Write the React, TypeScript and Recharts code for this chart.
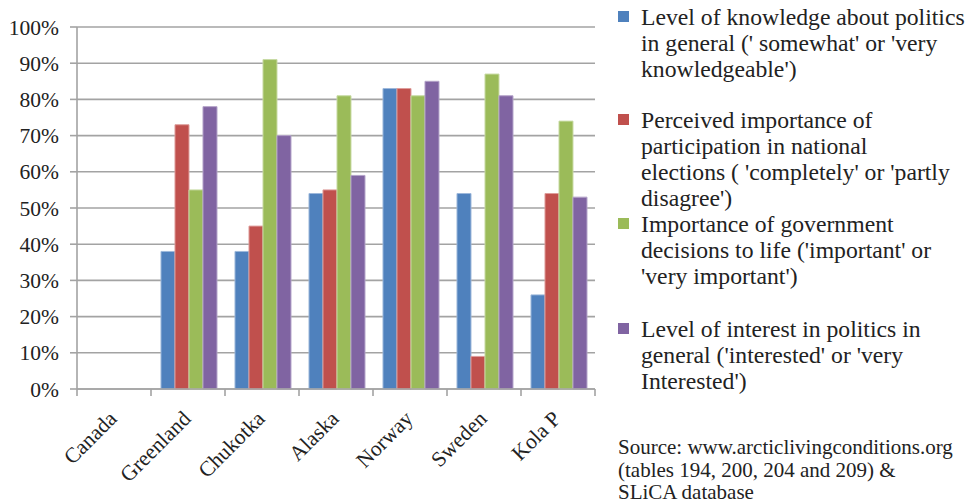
import React from 'react';
import { BarChart, Bar, XAxis, YAxis, CartesianGrid } from 'recharts';

const categories = ['Canada', 'Greenland', 'Chukotka', 'Alaska', 'Norway', 'Sweden', 'Kola P'];
const knowledge = [null, 38, 38, 54, 83, 54, 26];
const participation = [null, 73, 45, 55, 83, 9, 54];
const government = [null, 55, 91, 81, 81, 87, 74];
const interest = [null, 78, 70, 59, 85, 81, 53];
const yTicks = [0, 10, 20, 30, 40, 50, 60, 70, 80, 90, 100];

const seriesKeys = ['knowledge', 'participation', 'government', 'interest'];
const seriesColors = ['#4F81BD', '#C0504D', '#9BBB59', '#8064A2'];
const seriesEdges = ['#9DB8DB', '#DE9D9B', '#C8DBA4', '#B4A3C9'];
const seriesLabelLines = [
  ['Level of knowledge about politics', "in general (' somewhat' or 'very", "knowledgeable')"],
  ['Perceived importance of', 'participation in national', "elections ( 'completely' or 'partly", "disagree')"],
  ['Importance of government', "decisions to life ('important' or", "'very important')"],
  ['Level of interest in politics in', "general ('interested' or 'very", "Interested')"],
];
const sourceLines = [
  'Source: www.arcticlivingconditions.org',
  '(tables 194, 200, 204 and 209) &',
  'SLiCA database',
];

const data = categories.map((c, i) => ({
  name: c,
  knowledge: knowledge[i],
  participation: participation[i],
  government: government[i],
  interest: interest[i],
}));

const W = 971;
const H = 504;
const PLOT_LEFT = 77;
const PLOT_RIGHT = 595;
const PLOT_TOP = 27;
const PLOT_BOTTOM = 389;
const BAND = (PLOT_RIGHT - PLOT_LEFT) / categories.length;
const FONT = '"Liberation Serif", "Times New Roman", serif';
const GRID = '#A3A3A3';
const ITEM_HEIGHTS = [103, 104, 105, 100];

const XTick = (props: any) => {
  const { x, y, payload, index } = props;
  const half = BAND / 2;
  return (
    <g>
      <line x1={x - half} y1={y} x2={x - half} y2={y + 7} stroke={GRID} strokeWidth={1.6} />
      {index === categories.length - 1 && (
        <line x1={x + half} y1={y} x2={x + half} y2={y + 7} stroke={GRID} strokeWidth={1.6} />
      )}
      <text
        x={0}
        y={0}
        transform={`translate(${x + 4},${y + 31}) rotate(-45)`}
        textAnchor="end"
        fontFamily={FONT}
        fontSize={21.5}
        fill="#222"
      >
        {payload.value}
      </text>
    </g>
  );
};

export default function App() {
  return (
    <div style={{ position: 'absolute', left: 0, top: 0, width: W, height: H, background: '#fff' }}>
      <BarChart
        width={W}
        height={H}
        data={data}
        margin={{ top: PLOT_TOP, right: W - PLOT_RIGHT, bottom: H - PLOT_BOTTOM - 60, left: 0 }}
        barCategoryGap="13.5%"
        barGap={0}
      >
        <CartesianGrid vertical={false} stroke={GRID} strokeWidth={1.6} />
        <YAxis
          width={PLOT_LEFT}
          domain={[0, 100]}
          ticks={yTicks}
          tickFormatter={(v: number) => `${v}%`}
          axisLine={{ stroke: GRID, strokeWidth: 1.6 }}
          tickLine={{ stroke: GRID, strokeWidth: 1.6 }}
          tickSize={7}
          tickMargin={11}
          tick={{ fontFamily: FONT, fontSize: 21.5, fill: '#222' }}
          interval={0}
        />
        <XAxis
          dataKey="name"
          height={60}
          axisLine={{ stroke: GRID, strokeWidth: 1.6 }}
          tickLine={false}
          tickSize={0}
          tickMargin={0}
          interval={0}
          tick={<XTick />}
        />
        {seriesKeys.map((k, i) => (
          <Bar
            key={k}
            dataKey={k}
            fill={seriesColors[i]}
            stroke={seriesEdges[i]}
            strokeWidth={1}
            isAnimationActive={false}
          />
        ))}
      </BarChart>
      <div style={{ position: 'absolute', left: 618, top: 4, fontFamily: FONT, fontSize: 23.7, lineHeight: '26px', color: '#222' }}>
        {seriesLabelLines.map((lines, i) => (
          <div key={i} style={{ position: 'relative', height: ITEM_HEIGHTS[i], whiteSpace: 'nowrap' }}>
            <div style={{ position: 'absolute', left: 0, top: 7, width: 11, height: 11, background: seriesColors[i] }} />
            <div style={{ marginLeft: 23 }}>
              {lines.map((l, j) => (
                <div key={j}>{l}</div>
              ))}
            </div>
          </div>
        ))}
      </div>
      <div style={{ position: 'absolute', left: 618, top: 436, fontFamily: FONT, fontSize: 21, lineHeight: '22.5px', color: '#222', whiteSpace: 'nowrap' }}>
        {sourceLines.map((l, j) => (
          <div key={j}>{l}</div>
        ))}
      </div>
    </div>
  );
}
